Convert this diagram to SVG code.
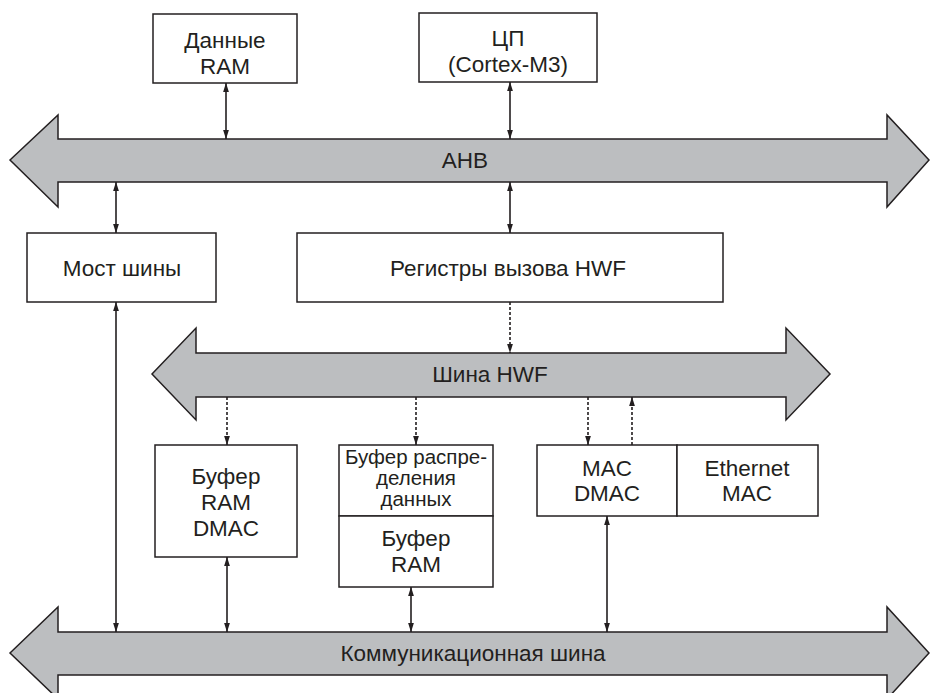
<svg xmlns="http://www.w3.org/2000/svg" width="930" height="693" viewBox="0 0 930 693">
<style>
.bus{fill:#bcbec0;stroke:#231f20;stroke-width:1.5;stroke-linejoin:miter}
.box{fill:#fff;stroke:#231f20;stroke-width:1.5}
.t{font-family:"Liberation Sans",Arial,sans-serif;font-size:22.5px;fill:#231f20;text-anchor:middle}
.ts{font-family:"Liberation Sans",Arial,sans-serif;font-size:20.5px;fill:#231f20;text-anchor:middle}
.c{stroke:#231f20;stroke-width:1.6;fill:none}
.d{stroke:#231f20;stroke-width:1.6;fill:none;stroke-dasharray:3 2}
</style>
<defs>
<marker id="ah" markerUnits="userSpaceOnUse" markerWidth="9" markerHeight="14" viewBox="0 0 14 9" refX="14" refY="4.5" orient="auto-start-reverse">
<path d="M0,0 L14,4.5 L0,9 Z" fill="#231f20"/>
</marker>
</defs>
<rect width="930" height="693" fill="#fff"/>
<g id="ahb">
<path class="bus" d="M10,160 L58,115 L58,139 L887,139 L887,115 L929,160 L887,207 L887,182 L58,182 L58,207 Z"/>
<text class="t" x="465" y="168">AHB</text>
</g>
<g id="hwfbus">
<path class="bus" d="M152,374 L196,328 L196,353 L786,353 L786,328 L830,374 L786,420 L786,397 L196,397 L196,420 Z"/>
<text class="t" x="490" y="382">Шина HWF</text>
</g>
<g id="commbus">
<path class="bus" d="M10,653 L58,607 L58,632 L887,632 L887,607 L929,653 L887,699 L887,675 L58,675 L58,699 Z"/>
<text class="t" x="473" y="661">Коммуникационная шина</text>
</g>
<g id="dataram">
<rect class="box" x="153" y="14" width="144" height="69"/>
<text class="t" x="225" y="48">Данные</text>
<text class="t" x="225" y="74">RAM</text>
</g>
<g id="cpu">
<rect class="box" x="419" y="13" width="178" height="69"/>
<text class="t" x="508" y="46">ЦП</text>
<text class="t" x="508" y="72">(Cortex-M3)</text>
</g>
<g id="bridge">
<rect class="box" x="27" y="233" width="189" height="69"/>
<text class="t" x="122" y="276">Мост шины</text>
</g>
<g id="hwfregs">
<rect class="box" x="297" y="233" width="426" height="69"/>
<text class="t" x="508" y="276">Регистры вызова HWF</text>
</g>
<g id="bufdmac">
<rect class="box" x="155" y="445" width="142" height="112"/>
<text class="t" x="226" y="484">Буфер</text>
<text class="t" x="226" y="510">RAM</text>
<text class="t" x="226" y="536">DMAC</text>
</g>
<g id="bufdist">
<rect class="box" x="339" y="445" width="154" height="71"/>
<text class="ts" x="416" y="464">Буфер распре-</text>
<text class="ts" x="416" y="485">деления</text>
<text class="ts" x="416" y="506">данных</text>
</g>
<g id="bufram">
<rect class="box" x="339" y="516" width="154" height="71"/>
<text class="t" x="416" y="546">Буфер</text>
<text class="t" x="416" y="572">RAM</text>
</g>
<g id="macdmac">
<rect class="box" x="537" y="445" width="140" height="71"/>
<text class="t" x="607" y="476">MAC</text>
<text class="t" x="607" y="501">DMAC</text>
</g>
<g id="ethmac">
<rect class="box" x="677" y="445" width="141" height="71"/>
<text class="t" x="747" y="476">Ethernet</text>
<text class="t" x="747" y="501">MAC</text>
</g>
<g id="connectors">
<line class="c" x1="226" y1="83" x2="226" y2="139" marker-start="url(#ah)" marker-end="url(#ah)"/>
<line class="c" x1="510" y1="82" x2="510" y2="139" marker-start="url(#ah)" marker-end="url(#ah)"/>
<line class="c" x1="116" y1="182" x2="116" y2="233" marker-start="url(#ah)" marker-end="url(#ah)"/>
<line class="c" x1="510" y1="182" x2="510" y2="233" marker-start="url(#ah)" marker-end="url(#ah)"/>
<line class="d" x1="510" y1="302" x2="510" y2="353" marker-end="url(#ah)"/>
<line class="c" x1="116" y1="302" x2="116" y2="632" marker-start="url(#ah)" marker-end="url(#ah)"/>
<line class="d" x1="227" y1="397" x2="227" y2="445" marker-end="url(#ah)"/>
<line class="d" x1="416" y1="397" x2="416" y2="445" marker-end="url(#ah)"/>
<line class="d" x1="588" y1="397" x2="588" y2="445" marker-end="url(#ah)"/>
<line class="d" x1="632" y1="445" x2="632" y2="397" marker-end="url(#ah)"/>
<line class="c" x1="227" y1="557" x2="227" y2="632" marker-start="url(#ah)" marker-end="url(#ah)"/>
<line class="c" x1="411" y1="587" x2="411" y2="632" marker-start="url(#ah)" marker-end="url(#ah)"/>
<line class="c" x1="607" y1="516" x2="607" y2="632" marker-start="url(#ah)" marker-end="url(#ah)"/>
</g>
</svg>
